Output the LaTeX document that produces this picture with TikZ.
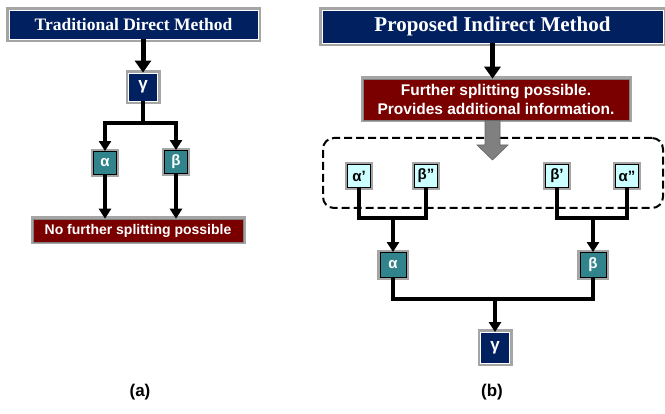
\documentclass[tikz,border=0pt]{standalone}
\usepackage{fontspec}
\setmainfont{Liberation Serif}
\setsansfont{Liberation Sans}
\usepackage{tikz}
\usetikzlibrary{arrows.meta,positioning}
\definecolor{navyblue}{RGB}{0, 32, 96}
\definecolor{darkred}{RGB}{122, 0, 0}
\definecolor{tealbox}{RGB}{49, 132, 140}
\definecolor{lightcyan}{RGB}{204, 255, 255}
\definecolor{glowgray}{RGB}{165, 165, 165}

\begin{document}
\begin{tikzpicture}[x=1pt, y=-1pt,
  titlebox/.style={fill=navyblue, draw=white, line width=0.8pt, preaction={draw=glowgray, line width=6pt}, text=white, inner sep=0pt},
  notebox/.style={fill=darkred, draw=gray, line width=0.6pt, preaction={draw=glowgray, line width=5pt}, text=white, inner sep=0pt, font=\sffamily\bfseries},
  gammabox/.style={fill=navyblue, draw=white, line width=0.8pt, preaction={draw=glowgray, line width=6pt}, text=white, inner sep=0pt, font=\sffamily\bfseries\fontsize{17}{19}\selectfont},
  tealnode/.style={fill=tealbox, draw=black, line width=0.9pt, preaction={draw=glowgray, line width=5.5pt}, text=white, inner sep=0pt, minimum size=23pt, font=\sffamily\bfseries\fontsize{15}{17}\selectfont},
  cyannode/.style={fill=lightcyan, draw=black, line width=0.9pt, preaction={draw=glowgray, line width=5.5pt}, text=black, inner sep=0pt, minimum size=23pt, font=\sffamily\bfseries\fontsize{15}{17}\selectfont},
  groupbox/.style={draw=black, dash pattern=on 8pt off 4pt, line width=2pt, rounded corners=11pt},
  pusharrow/.style={fill=black!50, draw=black!60, line width=0.6pt},
  line/.style={line width=3.4pt},
  arr/.style={line width=3.4pt, -{Triangle[width=12pt,length=10pt]}},
  bigarr/.style={line width=5pt, -{Triangle[width=16pt,length=12pt]}},
  caption/.style={font=\sffamily\bfseries\fontsize{17}{20}\selectfont}
]
\useasboundingbox (0,0) rectangle (665,414);

% (a) Traditional direct method
\node[titlebox, minimum width=249pt, minimum height=29pt, font=\bfseries\fontsize{17.5}{20}\selectfont] (tA) at (133.5,24.5) {Traditional Direct Method};
\node[gammabox, minimum width=29pt, minimum height=28pt] (gA) at (143,87) {γ};
\node[tealnode] (aA) at (105,163) {α};
\node[tealnode] (bA) at (176,162) {β};
\node[notebox, minimum width=210pt, minimum height=23pt, font=\sffamily\bfseries\fontsize{14}{16}\selectfont] (nA) at (138,230.5) {No further splitting possible};
\coordinate (sA) at (143,123);

\draw[bigarr] (gA |- tA.south) -- (gA);
\draw[line] (gA) -- (sA);
\draw[arr] (sA) -| (aA);
\draw[arr] (sA) -| (bA);
\draw[arr] (aA) -- (aA |- nA.north);
\draw[arr] (bA) -- (bA |- nA.north);

\node[caption] (capA) at (140,392) {(a)};

% (b) Proposed indirect method
\node[titlebox, minimum width=341pt, minimum height=33pt, font=\bfseries\fontsize{21}{24}\selectfont] (tB) at (492.5,26.5) {Proposed Indirect Method};
\node[notebox, minimum width=266pt, minimum height=41pt, align=center, font=\sffamily\bfseries\fontsize{15.5}{19}\selectfont] (nB) at (496,99.5) {Further splitting possible.\\Provides additional information.};
\node[groupbox, minimum width=340pt, minimum height=70pt] (grp) at (493,173) {};
\draw[pusharrow] (485,120.5) -- (500,120.5) -- (500,145) -- (508,145) -- (492.5,160) -- (477,145) -- (485,145) -- cycle;

\node[cyannode] (a1) at (359,176) {α’};
\node[cyannode] (b2) at (426,176) {β”};
\node[cyannode] (b1) at (557,176) {β’};
\node[cyannode] (a2) at (627,176) {α”};
\node[tealnode, minimum width=26pt, minimum height=25pt] (aB) at (393,265) {α};
\node[tealnode, minimum width=26pt, minimum height=25pt] (bB) at (593,265) {β};
\node[gammabox, minimum width=29pt, minimum height=31pt] (gB) at (495,348) {γ};
\coordinate (jL) at (393,218);
\coordinate (jR) at (593,218);
\coordinate (jB) at (495,299);

\draw[bigarr] (tB |- tB.south) -- (tB |- nB.north);
\draw[line] (a1.south) |- (jL) -| (b2.south);
\draw[line] (b1.south) |- (jR) -| (a2.south);
\draw[arr] (jL) -- (aB);
\draw[arr] (jR) -- (bB);
\draw[line] (aB.south) |- (jB) -| (bB.south);
\draw[arr] (jB) -- (gB);

\node[caption] (capB) at (492,392) {(b)};

\end{tikzpicture}
\end{document}
